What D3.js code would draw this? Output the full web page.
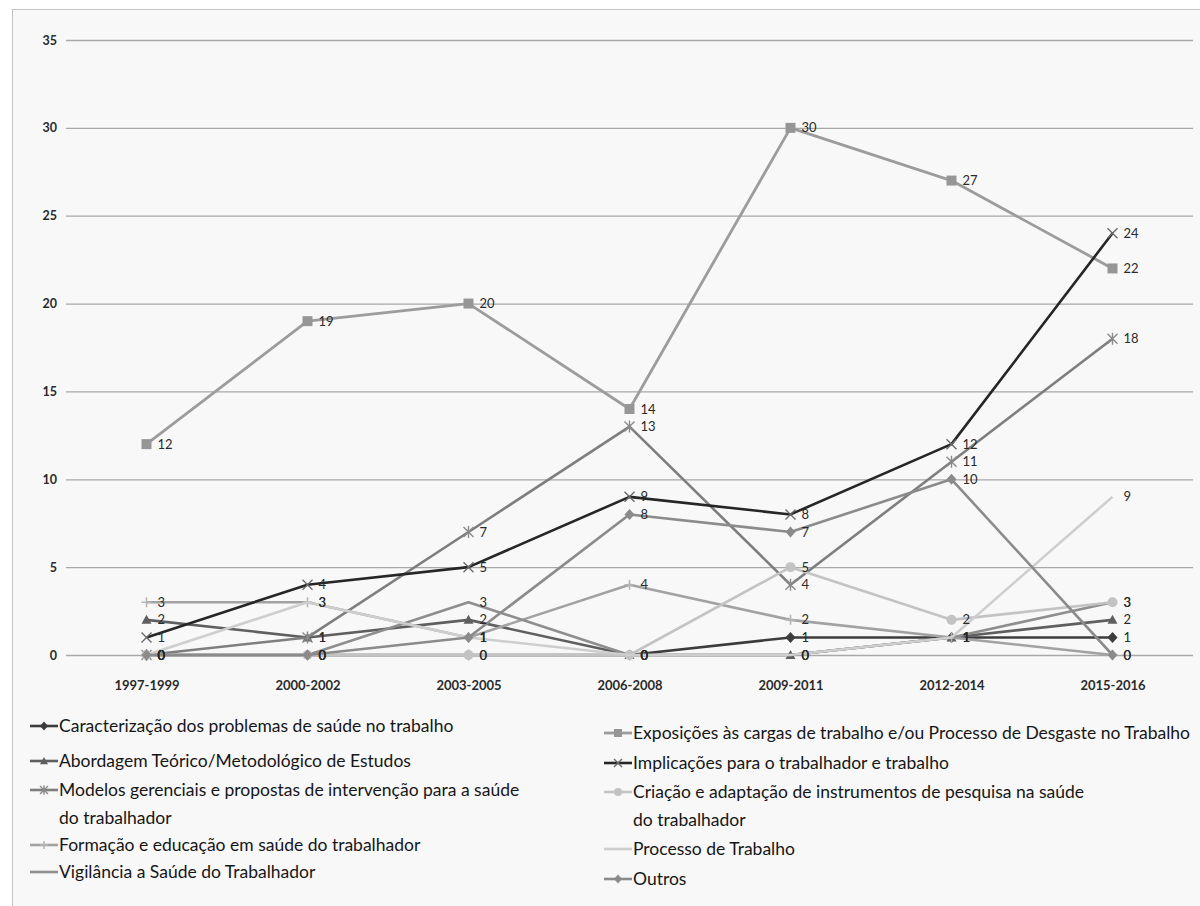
<!DOCTYPE html>
<html>
<head>
<meta charset="utf-8">
<script src="https://cdn.jsdelivr.net/npm/d3@7"></script>
<style>
  html, body { margin: 0; padding: 0; background: #ffffff; }
  svg { display: block; }
</style>
</head>
<body>
<svg id="chart" width="1200" height="906"></svg>
<script>
// Periods on the horizontal axis
const categories = ["1997-1999", "2000-2002", "2003-2005", "2006-2008", "2009-2011", "2012-2014", "2015-2016"];

// Number of studies per theme and period
const caracterizacao = [0, 0, 0, 0, 1, 1, 1];
const abordagem      = [2, 1, 2, 0, 0, 1, 2];
const modelos        = [0, 1, 7, 13, 4, 11, 18];
const formacao       = [3, 3, 1, 4, 2, 1, 0];
const vigilancia     = [0, 0, 3, 0, 0, 1, 3];
const exposicoes     = [12, 19, 20, 14, 30, 27, 22];
const implicacoes    = [1, 4, 5, 9, 8, 12, 24];
const criacao        = [0, 0, 0, 0, 5, 2, 3];
const processo       = [0, 3, 1, 0, 0, 1, 9];
const outros         = [0, 0, 1, 8, 7, 10, 0];

const seriesNames = [
  "Caracterização dos problemas de saúde no trabalho",
  "Abordagem Teórico/Metodológico de Estudos",
  "Modelos gerenciais e propostas de intervenção para a saúde do trabalhador",
  "Formação e educação em saúde do trabalhador",
  "Vigilância a Saúde do Trabalhador",
  "Exposições às cargas de trabalho e/ou Processo de Desgaste no Trabalho",
  "Implicações para o trabalhador e trabalho",
  "Criação e adaptação de instrumentos de pesquisa na saúde do trabalhador",
  "Processo de Trabalho",
  "Outros"
];

// Legend text, split into its printed lines
const legendLines = [
  ["Caracterização dos problemas de saúde no trabalho"],
  ["Abordagem Teórico/Metodológico de Estudos"],
  ["Modelos gerenciais e propostas de intervenção para a saúde", "do trabalhador"],
  ["Formação e educação em saúde do trabalhador"],
  ["Vigilância a Saúde do Trabalhador"],
  ["Exposições às cargas de trabalho e/ou Processo de Desgaste no Trabalho"],
  ["Implicações para o trabalhador e trabalho"],
  ["Criação e adaptação de instrumentos de pesquisa na saúde", "do trabalhador"],
  ["Processo de Trabalho"],
  ["Outros"]
];

const yTicks = [0, 5, 10, 15, 20, 25, 30, 35];

// Visual style for each theme (line colour, marker)
const styles = [
  { line: "#3c3c3c", marker: "diamond",  mfill: "#3c3c3c", width: 2.6 },
  { line: "#5f5f5f", marker: "triangle", mfill: "#5f5f5f", width: 2.6 },
  { line: "#7e7e7e", marker: "asterisk", mfill: "#8a8a8a", width: 2.6 },
  { line: "#a2a2a2", marker: "plus",     mfill: "#b5b5b5", width: 2.6 },
  { line: "#8e8e8e", marker: "none",     mfill: "#8e8e8e", width: 2.6 },
  { line: "#9c9c9c", marker: "square",   mfill: "#969696", width: 2.8 },
  { line: "#262626", marker: "x",        mfill: "#6a6a6a", width: 2.6 },
  { line: "#c3c3c3", marker: "circle",   mfill: "#c3c3c3", width: 2.6 },
  { line: "#cecece", marker: "none",     mfill: "#cecece", width: 2.6 },
  { line: "#8b8b8b", marker: "diamond",  mfill: "#8b8b8b", width: 2.6 }
];

const allValues = [caracterizacao, abordagem, modelos, formacao, vigilancia,
                   exposicoes, implicacoes, criacao, processo, outros];
const series = seriesNames.map((name, i) => ({ name, values: allValues[i], style: styles[i], legend: legendLines[i] }));

const svg = d3.select("#chart");
const fontFamily = "Lato, 'Open Sans', sans-serif";

// Chart frame
svg.append("rect")
  .attr("x", 12.5).attr("y", 9.5)
  .attr("width", 1200).attr("height", 910)
  .attr("fill", "#f8f8f8")
  .attr("stroke", "#c4c4c4");

const plot = { left: 66, right: 1193, top: 40, bottom: 655 };

const x = d3.scalePoint().domain(categories).range([plot.left, plot.right]).padding(0.5);
const y = d3.scaleLinear().domain([0, 35]).range([plot.bottom, plot.top]);

// Horizontal gridlines + y axis labels
const yAxis = d3.axisLeft(y).tickValues(yTicks).tickSize(-(plot.right - plot.left)).tickPadding(9);
const gy = svg.append("g").attr("transform", `translate(${plot.left},0)`).call(yAxis);
gy.select(".domain").remove();
gy.selectAll(".tick line").attr("stroke", "#a8a8a8").attr("stroke-width", 1.3);
gy.selectAll(".tick text")
  .attr("fill", "#2a2a2a")
  .style("font-family", fontFamily)
  .style("font-size", "12.5px")
  .style("font-weight", "bold");

// x axis category labels
const xAxis = d3.axisBottom(x).tickSize(0).tickPadding(26);
const gx = svg.append("g").attr("transform", `translate(0,${plot.bottom})`).call(xAxis);
gx.select(".domain").remove();
gx.selectAll(".tick text")
  .attr("fill", "#2a2a2a")
  .style("font-family", fontFamily)
  .style("font-size", "13px")
  .style("font-weight", "bold");

// Marker drawing
function drawMarker(g, type, size, color) {
  const s = size / 2;
  if (type === "none") return;
  if (type === "diamond") {
    g.append("path").attr("d", `M0,${-s * 1.1}L${s},0L0,${s * 1.1}L${-s},0Z`).attr("fill", color);
  } else if (type === "triangle") {
    g.append("path").attr("d", `M0,${-s}L${s},${s * 0.8}L${-s},${s * 0.8}Z`).attr("fill", color);
  } else if (type === "square") {
    g.append("rect").attr("x", -s).attr("y", -s).attr("width", size).attr("height", size).attr("fill", color);
  } else if (type === "circle") {
    g.append("circle").attr("r", s).attr("fill", color);
  } else if (type === "x") {
    g.append("path").attr("d", `M${-s},${-s}L${s},${s}M${-s},${s}L${s},${-s}`)
      .attr("stroke", color).attr("stroke-width", 1.4).attr("fill", "none");
  } else if (type === "asterisk") {
    g.append("path").attr("d", `M${-s},${-s}L${s},${s}M${-s},${s}L${s},${-s}M0,${-s * 1.2}L0,${s * 1.2}`)
      .attr("stroke", color).attr("stroke-width", 1.4).attr("fill", "none");
  } else if (type === "plus") {
    g.append("path").attr("d", `M${-s},0L${s},0M0,${-s}L0,${s}`)
      .attr("stroke", color).attr("stroke-width", 1.6).attr("fill", "none");
  }
}

const line = d3.line()
  .x((d, i) => x(categories[i]))
  .y(d => y(d));

// Series lines and markers
series.forEach(s => {
  const g = svg.append("g");
  g.append("path")
    .datum(s.values)
    .attr("d", line)
    .attr("fill", "none")
    .attr("stroke", s.style.line)
    .attr("stroke-width", s.style.width)
    .attr("stroke-linejoin", "round");
  s.values.forEach((v, i) => {
    const mg = g.append("g").attr("transform", `translate(${x(categories[i])},${y(v)})`);
    drawMarker(mg, s.style.marker, 10, s.style.mfill);
  });
});

// Value labels to the right of each point
series.forEach(s => {
  svg.append("g").selectAll("text")
    .data(s.values)
    .join("text")
    .attr("x", (d, i) => x(categories[i]) + 11)
    .attr("y", d => y(d) + 4.5)
    .attr("fill", "#2a2a2a")
    .style("font-family", fontFamily)
    .style("font-size", "13px")
    .text(d => d);
});

// Legend in two columns
const legendCols = [
  { x: 30, rows: [726, 761, 790, 845, 872], items: [0, 1, 2, 3, 4] },
  { x: 604, rows: [733, 763, 792, 849, 879], items: [5, 6, 7, 8, 9] }
];
legendCols.forEach(col => {
  col.items.forEach((idx, k) => {
    const s = series[idx];
    const g = svg.append("g").attr("transform", `translate(${col.x},${col.rows[k]})`);
    g.append("line").attr("x1", 0).attr("x2", 28).attr("y1", 0).attr("y2", 0)
      .attr("stroke", s.style.line).attr("stroke-width", s.style.width);
    const mg = g.append("g").attr("transform", "translate(14,0)");
    drawMarker(mg, s.style.marker, 8, s.style.mfill);
    s.legend.forEach((t, j) => {
      g.append("text")
        .attr("x", 29)
        .attr("y", j * 28 + 6)
        .attr("fill", "#161616")
        .style("font-family", fontFamily)
        .style("font-size", "17.5px")
        .text(t);
    });
  });
});
</script>
</body>
</html>
